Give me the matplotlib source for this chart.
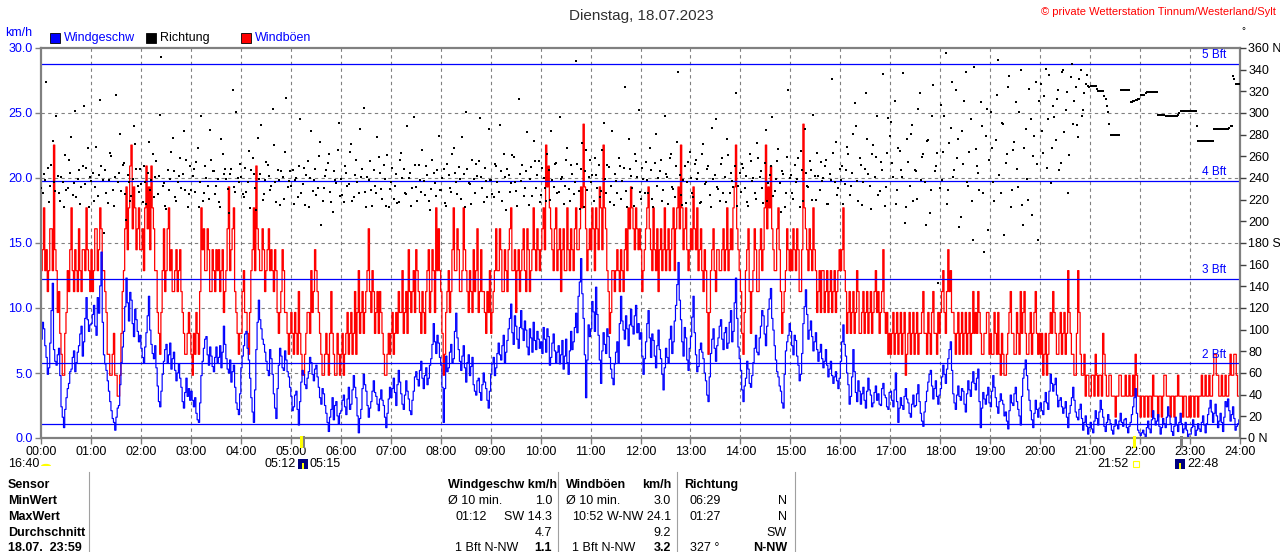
import numpy as np
import matplotlib
matplotlib.use('Agg')
import matplotlib.pyplot as plt
from matplotlib.patches import Rectangle, Wedge

plt.rcParams['font.family'] = ['Liberation Sans', 'DejaVu Sans']

# ---------------- data (3-minute samples, 20 per hour) ----------------
# gusts in whole mph (station resolution), at the full 3-minute marks
gust_mph = [
    8,11,9,8,10,14,8,7,4,3,6,7,11,7,8,10,7,9,11,8,
    9,8,10,9,10,8,6,4,3,5,3,2,5,8,12,11,14,12,9,11,
    9,8,13,12,13,10,8,5,6,10,8,11,9,7,9,8,7,5,4,6,
    4,5,6,4,11,10,8,9,7,8,9,9,8,6,8,12,9,11,6,4,
    5,8,6,4,8,11,13,9,8,9,8,10,9,7,8,5,7,8,6,4,
    6,4,5,7,4,3,5,6,8,7,8,6,4,3,5,3,7,4,3,4,
    4,3,5,4,6,5,4,8,6,5,7,10,6,7,6,5,6,4,3,5,
    5,4,6,7,6,5,7,9,6,8,9,7,5,6,7,9,7,8,11,10,
    7,3,6,8,7,11,8,9,7,11,8,6,7,9,8,6,9,7,5,6,
    5,7,10,8,9,7,8,9,11,8,6,9,8,10,7,9,8,11,8,9,
    9,11,14,13,10,8,11,9,7,10,8,9,10,8,11,9,12,15,10,9,
    9,10,11,9,11,14,10,7,6,8,8,8,9,7,10,11,12,10,11,9,
    9,8,10,12,9,11,8,7,10,9,8,10,9,11,10,12,14,9,11,8,
    10,12,9,8,10,7,8,4,8,10,7,9,8,10,9,8,10,11,14,9,
    7,4,8,10,5,8,9,7,10,9,14,12,13,9,8,11,7,6,8,9,
    9,10,8,9,7,15,10,8,9,11,8,7,6,8,7,6,8,7,6,8,
    8,11,7,6,5,7,6,7,5,7,6,5,7,6,8,7,6,9,5,4,
    4,6,5,4,6,5,3,5,4,6,5,4,5,7,5,6,4,7,5,6,
    6,8,5,9,8,6,4,6,5,4,6,5,4,7,6,7,5,4,5,6,
    5,4,5,6,3,4,3,5,7,5,4,5,7,6,5,4,6,5,7,4,
    4,3,5,4,6,7,5,4,6,5,4,8,5,4,3,8,4,3,2,3,
    2,3,4,2,3,5,3,2,3,2,1,2,3,2,3,2,2,3,4,2,
    1,2,2,1,2,3,2,1,2,2,3,2,1,2,2,3,2,1,2,1,
    1,2,2,1,2,2,3,2,2,3,4,3,2,2,3,2,4,3,4,2,
]

# gusts in mph, half-way between the 3-minute marks
gust_mph_mid = [
    9,8,7,10,8,9,6,5,3,5,8,9,8,9,7,8,9,8,9,7,
    7,10,8,11,8,7,4,3,4,3,2,3,7,10,9,13,10,11,10,9,
    10,11,10,9,11,8,6,4,8,7,10,8,7,8,7,9,6,4,5,5,
    3,4,5,7,9,8,10,7,9,7,8,7,9,7,10,8,10,7,5,5,
    7,6,5,6,9,8,10,8,10,7,9,8,8,9,6,6,9,6,5,5,
    5,6,4,5,3,4,6,5,6,9,7,5,3,4,4,5,5,3,5,3,
    5,4,6,5,4,7,6,5,7,6,8,7,8,5,7,7,5,3,4,4,
    6,5,5,6,8,6,5,7,7,6,8,6,7,5,8,6,9,6,8,8,
    5,4,7,6,9,8,10,7,8,9,7,8,6,7,10,7,7,6,7,8,
    6,8,8,10,7,9,7,10,8,9,8,7,9,8,10,7,9,9,10,8,
    10,9,12,11,9,10,8,10,9,8,11,8,9,10,9,10,11,12,8,10,
    11,8,10,12,9,11,8,5,8,7,9,7,8,9,8,10,11,9,10,10,
    7,9,11,10,8,9,10,9,8,11,9,8,10,8,11,10,11,10,9,9,
    9,10,11,9,8,9,6,6,9,8,9,8,9,8,11,9,9,12,10,8,
    5,6,9,7,7,10,7,9,8,11,10,11,10,8,10,9,5,7,10,8,
    8,9,10,7,9,11,9,10,8,9,6,8,8,6,8,7,6,8,7,9,
    9,8,5,7,6,5,8,5,6,5,7,6,5,7,6,5,7,6,6,5,
    5,4,6,5,4,6,4,6,5,4,6,5,6,5,4,5,6,5,4,5,
    7,6,7,7,6,5,5,4,6,5,4,6,5,5,5,6,4,5,6,4,
    4,6,4,4,5,3,4,6,5,4,6,4,5,7,4,5,4,6,5,5,
    5,4,3,5,5,6,4,5,4,6,5,6,4,3,5,6,3,4,3,2,
    3,2,3,3,2,4,2,3,2,2,2,3,2,2,2,3,2,2,3,2,
    2,1,2,2,1,2,2,2,1,3,2,2,2,1,2,2,2,2,1,2,
    2,1,2,2,3,2,2,3,2,4,3,2,3,2,2,3,3,4,3,2,
]

# wind speed km/h at the full 3-minute marks
speed_kmh = [
    7.6,8.4,6.2,5.4,9.8,6.8,5.6,6.9,2.4,0.8,3.1,4.2,5.3,6.7,5.8,7.1,8.6,7.4,10.8,8.2,
    8.8,10.2,7.9,9.6,14.3,6.4,5.2,3.6,2.1,1.2,1.6,2.5,5.8,8.2,12.3,9.0,10.6,7.8,9.1,7.4,
    6.9,5.8,8.1,10.9,7.2,6.1,5.4,2.8,3.6,5.9,7.2,6.4,5.3,6.6,4.4,5.7,3.9,2.3,4.6,3.8,
    3.6,2.4,1.9,1.2,4.8,6.9,7.8,5.6,6.3,5.1,7.0,6.2,5.4,8.6,6.1,5.0,4.3,5.6,2.7,1.8,
    5.4,7.1,8.2,6.0,3.1,1.2,6.8,10.6,8.4,7.2,5.9,4.8,6.1,3.4,1.5,5.6,6.3,5.2,6.0,4.7,
    3.2,2.4,3.6,1.0,4.3,4.9,3.8,5.1,5.8,4.4,5.6,3.9,2.6,3.4,1.9,0.5,2.2,1.4,2.8,1.1,
    2.1,3.3,1.8,3.9,2.6,4.8,3.1,0.4,2.2,4.9,3.6,1.6,2.8,4.4,3.2,2.1,3.7,2.5,0.8,3.0,
    3.1,4.6,2.5,5.2,3.4,2.2,4.4,3.0,1.8,3.6,5.1,4.0,5.9,3.8,5.4,4.6,6.1,8.8,6.5,7.3,
    5.6,1.2,6.3,5.4,7.2,6.1,9.6,6.8,5.2,7.1,4.3,6.4,5.5,4.1,3.3,4.6,2.9,5.0,3.8,2.3,
    4.9,6.2,5.4,7.3,6.0,7.9,6.6,8.4,10.3,7.2,8.6,6.9,9.8,7.5,8.3,6.4,7.7,8.9,6.8,7.6,
    7.4,8.5,6.6,7.8,6.2,8.0,5.8,7.1,6.4,5.3,7.6,4.9,8.2,7.4,9.6,10.9,13.8,9.2,3.1,8.7,
    8.4,9.7,11.6,7.9,4.2,8.1,6.5,7.8,5.3,4.1,6.6,5.8,10.9,8.3,9.4,7.1,9.9,8.0,10.2,8.8,
    8.1,4.9,7.4,9.8,6.2,7.5,5.4,8.3,6.1,3.7,6.9,5.8,8.6,7.4,10.2,13.5,9.1,6.3,7.7,5.2,
    7.8,10.9,6.4,5.5,7.3,6.1,4.4,2.8,6.5,8.4,5.9,7.7,9.1,6.8,8.5,7.3,9.8,8.2,12.3,7.0,
    5.2,2.8,4.6,5.3,3.9,5.8,7.9,6.4,8.6,9.4,7.1,9.9,11.5,8.3,6.0,4.7,3.6,2.3,6.7,7.9,
    8.2,6.4,7.5,5.6,4.9,8.8,11.4,7.6,9.0,6.7,8.1,5.9,7.2,5.4,6.8,4.7,5.9,4.2,5.1,3.8,
    5.9,8.7,6.3,4.1,3.2,6.8,3.5,4.4,2.6,3.9,2.3,4.6,3.3,2.7,4.0,3.4,2.5,4.2,3.1,2.2,
    3.6,2.4,5.0,1.2,3.1,2.2,3.8,2.7,1.6,3.3,2.5,4.1,1.9,0.9,2.8,4.3,5.2,3.0,4.4,2.6,
    3.8,5.6,4.2,6.1,7.4,3.4,2.2,4.0,2.9,3.6,2.0,4.4,3.2,5.1,3.7,5.3,0.8,3.5,2.6,3.9,
    2.4,4.8,3.1,1.9,3.4,2.6,2.0,0.7,3.3,2.5,3.9,2.2,1.0,4.6,6.0,3.7,2.1,0.8,2.9,1.6,
    2.7,1.8,3.5,2.2,4.9,3.6,4.6,2.4,3.1,1.9,2.8,0.8,2.5,3.9,2.0,1.4,2.6,0.6,1.7,0.3,
    1.2,0.4,2.1,1.0,2.9,1.6,0.5,1.8,1.1,0.3,1.4,0.7,1.9,0.9,1.5,0.4,1.2,2.4,3.8,0.6,
    0.2,0.6,0.1,1.3,0.4,2.1,1.0,1.8,0.3,1.5,0.8,2.4,1.1,0.2,1.6,0.5,1.9,0.4,1.2,0.1,
    0.3,1.4,0.2,1.1,0.5,1.7,0.4,1.8,2.9,1.2,2.6,0.8,1.9,0.5,2.8,3.0,1.3,2.4,0.6,1.1,
]

# wind speed km/h half-way between the 3-minute marks
speed_kmh_mid = [
    8.9,7.1,4.9,7.3,11.9,5.9,6.4,4.8,1.6,2.2,3.8,5.1,6.2,5.1,6.6,8.0,6.3,9.2,9.1,8.7,
    9.5,8.6,10.8,11.7,8.9,5.7,4.4,2.8,1.5,0.6,2.3,4.1,7.0,10.1,10.4,11.2,8.8,9.9,8.2,7.9,
    6.2,7.0,9.4,8.3,6.5,7.1,4.0,2.4,4.9,6.8,5.8,7.3,6.1,5.2,5.0,4.6,2.8,3.5,3.2,2.9,
    2.9,3.1,1.4,2.7,5.9,7.6,6.4,7.0,5.5,6.2,5.8,7.1,6.6,7.2,5.3,6.0,5.1,3.9,2.2,3.4,
    6.3,8.0,6.9,4.6,2.0,3.7,8.9,9.1,7.6,6.6,5.2,6.8,4.9,2.3,3.8,6.9,5.4,6.7,5.1,3.9,
    2.1,3.3,2.2,2.8,5.2,4.1,4.6,6.2,4.9,5.3,4.7,3.1,3.8,2.5,1.2,1.6,3.1,2.5,1.7,1.9,
    2.9,2.4,3.0,2.2,3.7,3.9,1.7,1.5,3.8,4.1,2.5,2.3,3.6,3.5,2.6,3.0,2.9,1.6,1.9,3.9,
    3.8,3.5,4.1,4.3,2.6,3.3,3.6,2.1,2.9,4.7,4.5,5.2,4.6,4.8,4.1,5.6,7.2,7.4,7.9,6.2,
    3.9,3.8,5.1,6.6,5.8,8.2,7.7,5.9,6.3,5.4,5.8,4.8,6.2,3.6,4.4,3.5,4.1,4.3,2.9,3.6,
    5.7,4.8,6.5,6.4,7.1,5.8,7.5,9.2,8.1,9.4,7.6,8.5,8.4,9.0,7.0,8.4,6.6,7.5,8.2,6.9,
    6.5,7.6,8.4,5.6,7.3,6.7,6.6,5.7,7.5,6.3,5.8,6.7,6.8,8.5,8.1,12.0,11.1,6.4,6.0,7.8,
    10.5,8.2,9.5,6.0,6.7,7.2,8.4,6.2,4.6,5.7,7.4,8.8,9.0,7.6,8.4,8.7,8.6,9.4,8.1,7.6,
    6.3,6.1,8.8,7.7,8.0,6.3,7.1,6.8,4.9,5.4,6.2,7.6,6.5,9.0,11.8,10.6,7.4,8.5,6.0,6.9,
    9.3,8.1,5.1,6.8,6.6,5.0,3.3,4.7,7.6,6.9,7.1,8.6,7.6,8.1,6.9,8.9,7.4,10.4,9.2,6.1,
    3.7,4.0,5.9,4.2,4.8,6.9,6.6,7.7,9.8,8.0,8.6,10.7,9.2,7.1,5.1,4.0,2.7,4.9,7.4,8.8,
    7.1,7.9,6.3,4.4,6.5,10.1,9.5,8.3,7.8,7.4,6.8,6.6,6.1,5.9,5.6,5.3,4.8,4.7,4.4,4.6,
    7.4,7.2,5.0,2.6,4.7,5.1,2.8,3.6,3.4,2.9,3.6,3.7,2.4,3.5,2.9,2.6,3.8,3.3,2.4,3.5,
    2.9,3.7,2.8,2.3,2.5,3.2,3.0,1.9,2.6,2.4,3.4,2.8,1.3,2.0,3.6,4.9,4.0,3.8,3.2,3.3,
    4.7,4.9,5.3,6.8,5.2,2.7,3.3,3.2,3.8,2.6,3.4,3.7,4.3,4.2,4.6,2.8,2.3,3.0,3.3,2.7,
    3.6,3.9,2.4,2.8,2.9,1.7,1.3,2.1,2.7,3.4,2.8,1.7,3.2,5.3,4.8,2.9,1.4,1.9,2.2,2.3,
    2.1,2.8,2.7,3.6,4.2,4.1,3.3,2.9,2.4,2.3,1.6,1.9,3.1,2.9,1.6,2.2,1.5,1.2,0.9,0.8,
    0.7,1.3,1.5,2.0,2.2,0.9,1.2,1.4,0.6,0.9,1.0,1.3,1.2,1.4,0.8,0.9,1.8,3.1,1.9,0.4,
    0.4,0.3,0.8,0.7,1.4,1.5,1.3,0.9,0.8,1.1,1.6,1.7,0.5,0.9,1.0,1.2,1.1,0.7,0.6,0.3,
    0.8,0.9,0.6,0.7,1.2,1.0,1.1,2.3,2.0,1.9,1.7,1.3,1.2,1.6,2.4,2.1,1.8,1.5,0.9,1.4,
]

# wind direction, read at the full 3-minute marks
direction_deg = [
    231,244,329,218,252,236,297,226,241,213,229,257,278,235,222,247,232,306,249,213,
    237,219,269,243,251,189,226,238,260,214,317,245,228,254,201,236,223,288,248,227,
    234,251,216,273,238,222,256,242,352,235,211,229,264,246,219,242,231,283,257,225,
    229,248,255,213,297,226,240,221,257,246,233,218,276,244,239,208,248,232,301,236,
    241,222,227,265,247,244,210,239,289,225,255,242,233,270,218,238,246,221,314,237,
    233,216,240,251,226,249,243,213,283,238,224,260,197,231,247,262,218,246,235,291,
    239,218,245,234,271,222,257,226,241,305,213,238,229,247,226,259,230,252,214,213,
    236,221,244,218,263,248,225,240,214,296,232,252,227,237,251,219,230,245,223,279,
    229,248,214,243,227,268,236,250,221,244,301,235,216,239,253,256,241,218,237,285,
    238,222,251,227,246,262,210,243,235,259,228,313,237,223,246,215,250,274,231,256,
    224,240,219,247,283,232,254,227,239,216,257,230,252,225,348,228,248,213,266,241,
    236,219,243,252,228,291,226,250,233,215,237,258,221,249,228,276,242,214,256,303,
    221,239,255,226,247,213,281,240,257,229,244,216,262,230,251,338,224,238,217,255,
    240,222,257,245,218,271,236,251,213,239,294,230,253,226,218,261,245,232,318,233,
    227,249,242,214,256,240,221,258,246,217,284,235,251,223,239,267,209,244,226,321,
    243,221,236,258,265,219,245,232,247,298,220,242,255,240,257,216,238,263,273,231,
    238,216,247,262,233,281,288,219,252,236,318,244,211,270,259,224,255,336,232,295,
    292,241,216,268,247,337,213,255,281,219,246,304,238,262,197,275,229,326,251,143,
    307,264,355,229,286,241,321,276,204,253,338,233,294,183,267,245,310,226,279,192,
    301,236,275,349,226,290,254,324,213,266,310,232,340,197,285,220,294,260,329,183,
    327,263,341,294,235,306,275,321,254,340,303,226,333,290,324,278,340,303,327,325,
    325,325,325,320,320,320,313,301,280,280,280,280,321,321,321,321,310,311,312,313,
    317,317,318,319,319,319,319,298,298,298,297,297,297,297,297,298,302,302,302,302,
    302,302,302,274,274,274,274,274,274,274,285,285,285,285,285,285,288,334,327,327,
]

# wind direction, read half-way between the 3-minute marks
direction_deg_mid = [
    226,238,249,233,274,228,242,219,236,261,231,245,224,302,239,216,251,234,268,241,
    245,232,223,312,238,247,217,263,229,241,236,281,252,225,243,219,239,271,233,248,
    218,236,245,229,262,241,225,298,233,214,247,239,277,222,236,258,244,229,213,251,
    242,227,268,236,219,251,233,284,246,225,239,213,262,248,230,244,321,227,240,253,
    225,249,236,212,258,231,277,244,220,238,252,229,304,236,247,215,241,264,232,246,
    247,238,222,294,234,215,256,240,228,248,231,273,219,242,254,227,209,238,266,223,
    224,251,233,264,219,243,236,285,248,227,241,256,214,233,278,245,221,239,261,230,
    249,233,217,257,240,226,288,245,231,252,219,238,266,224,243,210,257,235,247,229,
    240,217,253,231,262,245,225,239,278,213,248,234,257,226,242,295,231,249,222,238,
    225,253,236,289,219,241,248,227,261,236,214,244,252,231,282,239,223,256,243,218,
    249,231,262,220,238,253,226,296,241,233,268,219,244,236,253,211,272,246,229,257,
    243,258,231,222,266,239,252,218,283,244,226,251,237,324,213,248,231,262,241,227,
    249,226,238,268,221,254,233,246,219,297,241,258,232,222,273,243,215,251,236,264,
    226,253,239,217,262,234,248,224,286,243,232,219,258,241,276,226,237,251,214,245,
    253,231,218,262,237,226,272,241,231,254,219,243,296,228,256,235,246,213,259,240,
    226,252,239,213,247,285,233,256,220,242,263,229,237,251,216,244,331,236,224,248,
    251,234,269,224,245,309,237,258,215,248,276,233,262,241,297,228,247,214,263,279,
    254,311,229,265,241,198,276,233,289,247,221,318,259,236,274,208,297,246,263,231,
    238,297,216,272,329,247,258,195,283,311,236,264,219,342,251,229,288,172,304,257,
    268,219,317,243,291,187,262,334,229,273,248,301,215,268,239,322,206,279,253,311,
    283,316,249,335,268,296,313,247,338,282,319,261,345,311,289,331,297,318,335,324,
    325,325,322,320,320,316,306,290,280,280,280,280,321,321,321,321,310,311,312,313,
    317,317,319,319,319,319,319,298,298,298,297,297,297,297,297,300,302,302,302,302,
    302,302,288,274,274,274,274,274,274,285,285,285,285,285,285,286,288,331,327,327,
]

sample_minutes = 3
MPH_TO_KMH = 1.609344

bft_limits_kmh = [1.08, 5.76, 12.24, 19.8, 28.8]
bft_labels = ['', '2 Bft', '3 Bft', '4 Bft', '5 Bft']

kmh_ticks = [0, 5, 10, 15, 20, 25, 30]
deg_ticks = list(range(0, 361, 20))
deg_names = {0: ' N', 180: ' S', 360: ' N'}
hour_ticks = list(range(25))

astro_events = [('05:12', 5 + 12/60, '#ffff00'), ('05:15', 5 + 15/60, '#808080'),
                ('21:52', 21 + 52/60, '#ffff00'), ('22:48', 22 + 48/60, '#808080')]

table_rows = ['Sensor', 'MinWert', 'MaxWert', 'Durchschnitt', '18.07.  23:59']

# ---------------- figure ----------------
W, H = 1280, 552
fig = plt.figure(figsize=(W/100, H/100), dpi=100)
fig.patch.set_facecolor('white')

def fx(x):
    return x / W

def fy(y):
    return 1 - y / H

ax = fig.add_axes([fx(41), fy(438), 1199/W, 390/H])
ax.set_xlim(0, 24)
ax.set_ylim(0, 30)

gray = '#808080'
for s in ax.spines.values():
    s.set_color(gray)
    s.set_linewidth(1.6)
    s.set_zorder(6)

for h in range(1, 24):
    ax.axvline(h, color=gray, lw=0.8, ls=(0, (3, 3)), zorder=0)
for v in range(5, 30, 5):
    ax.axhline(v, color=gray, lw=0.8, ls=(0, (3, 3)), zorder=0)

def interleave(a, b):
    out = np.empty(len(a) + len(b))
    out[0::2] = a
    out[1::2] = b
    return out

gust_kmh = interleave(gust_mph, gust_mph_mid) * MPH_TO_KMH
spd = interleave(speed_kmh, speed_kmh_mid)
half_step_h = sample_minutes / 60.0 / 2
t_edges = np.arange(len(spd) + 1) * half_step_h

ax.step(t_edges, np.r_[gust_kmh, gust_kmh[-1]], where='post', color='#ff0000', lw=0.9, zorder=2)
ax.step(t_edges, np.r_[spd, spd[-1]], where='post', color='#0000ff', lw=0.85, zorder=3)

for v, lab in zip(bft_limits_kmh, bft_labels):
    ax.axhline(v, color='#0000ff', lw=0.9, zorder=4)
    if lab:
        ax.text(23.72, v + 0.2, lab, ha='right', va='bottom', color='#0000ff', fontsize=8.5, zorder=5)

ax.set_yticks(kmh_ticks)
ax.set_yticklabels([f'{v:.1f}' for v in kmh_ticks])
ax.tick_params(axis='y', length=4, width=1, color=gray, labelcolor='#0000ff', labelsize=9, pad=2)
ax.set_xticks(hour_ticks)
ax.set_xticklabels([f'{h:02d}:00' for h in hour_ticks])
ax.tick_params(axis='x', length=4, width=1, color=gray, labelcolor='black', labelsize=9, pad=2)

ax2 = ax.twinx()
ax2.set_ylim(0, 360)
ax2.set_xlim(0, 24)
for s in ax2.spines.values():
    s.set_visible(False)
step_h = sample_minutes / 60.0
t_a = np.arange(len(direction_deg)) * step_h + 0.01
t_b = np.arange(len(direction_deg_mid)) * step_h + step_h / 2 + 0.01
ax2.scatter(t_a, direction_deg, marker='s', s=2.8, c='black', linewidths=0, zorder=7)
ax2.scatter(t_b, direction_deg_mid, marker='s', s=2.8, c='black', linewidths=0, zorder=7)
ax2.set_yticks(deg_ticks)
ax2.set_yticklabels([f'{d}{deg_names.get(d, "")}' for d in deg_ticks])
ax2.tick_params(axis='y', length=4, width=1, color='#404040', labelcolor='black', labelsize=9, pad=2)

# ---------------- astro markers under the axis ----------------
for lab, hour, col in astro_events:
    xp = 41 + 50 * hour
    fig.patches.append(Rectangle((fx(xp - 1), fy(448)), 2.5/W, 12/H, transform=fig.transFigure,
                                 facecolor=col, edgecolor='none', zorder=10))

fs = 9
fig.text(fx(8), fy(464), '16:40', ha='left', va='center', fontsize=fs)
fig.patches.append(Wedge((fx(46), fy(466)), 5/W, 0, 180, transform=fig.transFigure,
                         facecolor='#ffff00', edgecolor='none'))
fig.text(fx(296), fy(464), '05:12', ha='right', va='center', fontsize=fs)
fig.patches.append(Rectangle((fx(298), fy(469)), 10/W, 10/H, transform=fig.transFigure,
                             facecolor='#000080', edgecolor='none'))
fig.patches.append(Rectangle((fx(302), fy(469)), 2/W, 6/H, transform=fig.transFigure,
                             facecolor='#ffff00', edgecolor='none'))
fig.text(fx(309), fy(464), '05:15', ha='left', va='center', fontsize=fs)
fig.text(fx(1129), fy(464), '21:52', ha='right', va='center', fontsize=fs)
fig.patches.append(Rectangle((fx(1133), fy(467)), 6/W, 6/H, transform=fig.transFigure,
                             facecolor='none', edgecolor='#ffff00', lw=0.8))
fig.patches.append(Rectangle((fx(1175), fy(469)), 10/W, 10/H, transform=fig.transFigure,
                             facecolor='#000080', edgecolor='none'))
fig.patches.append(Rectangle((fx(1179), fy(469)), 2/W, 6/H, transform=fig.transFigure,
                             facecolor='#ffff00', edgecolor='none'))
fig.text(fx(1187), fy(464), '22:48', ha='left', va='center', fontsize=fs)

# ---------------- header ----------------
fig.text(fx(641), fy(16), 'Dienstag, 18.07.2023', ha='center', va='center', fontsize=11, color='#303030')
fig.text(fx(1276), fy(12), '\u00a9 private Wetterstation Tinnum/Westerland/Sylt', ha='right', va='center',
         fontsize=8, color='#ff0000')
fig.text(fx(1243), fy(31), '\u00b0', ha='center', va='center', fontsize=7, color='black')
fig.text(fx(5), fy(33), 'km/h', ha='left', va='center', fontsize=fs, color='#0000ff')

legend_items = [(50, '#0000ff', 'Windgeschw', '#0000ff'), (146, '#000000', 'Richtung', '#000000'),
                (241, '#ff0000', 'Windböen', '#0000ff')]
for x0, col, lab, tcol in legend_items:
    fig.patches.append(Rectangle((fx(x0), fy(43)), 10/W, 10/H, transform=fig.transFigure,
                                 facecolor=col, edgecolor='black', lw=0.6))
    fig.text(fx(x0 + 14), fy(38), lab, ha='left', va='center', fontsize=fs, color=tcol)

# ---------------- table ----------------
row_y = [485, 501, 517, 533, 548]
for lab, y in zip(table_rows, row_y):
    fig.text(fx(8), fy(y), lab, ha='left', va='center', fontsize=fs, fontweight='bold')
for xs in [89, 558, 677, 795]:
    fig.lines.append(plt.Line2D([fx(xs), fx(xs)], [fy(472), 0], transform=fig.transFigure,
                                color='#a0a0a0', lw=0.8))

cells = [
    (448, 485, 'Windgeschw km/h', 'left', True), (566, 485, 'Windböen', 'left', True),
    (671, 485, 'km/h', 'right', True), (684, 485, 'Richtung', 'left', True),
    (448, 501, 'Ø 10 min.', 'left', False), (552, 501, '1.0', 'right', False),
    (566, 501, 'Ø 10 min.', 'left', False), (671, 501, '3.0', 'right', False),
    (690, 501, '06:29', 'left', False), (787, 501, 'N', 'right', False),
    (455, 517, '01:12', 'left', False), (552, 517, 'SW 14.3', 'right', False),
    (572, 517, '10:52', 'left', False), (671, 517, 'W-NW 24.1', 'right', False),
    (690, 517, '01:27', 'left', False), (787, 517, 'N', 'right', False),
    (552, 533, '4.7', 'right', False), (671, 533, '9.2', 'right', False),
    (787, 533, 'SW', 'right', False),
    (455, 548, '1 Bft N-NW', 'left', False), (552, 548, '1.1', 'right', True),
    (572, 548, '1 Bft N-NW', 'left', False), (671, 548, '3.2', 'right', True),
    (690, 548, '327 °', 'left', False), (787, 548, 'N-NW', 'right', True),
]
for x, y, txt, ha, bold in cells:
    fig.text(fx(x), fy(y), txt, ha=ha, va='center', fontsize=fs,
             fontweight='bold' if bold else 'normal')

fig.savefig('out.png', dpi=100, facecolor='white')
